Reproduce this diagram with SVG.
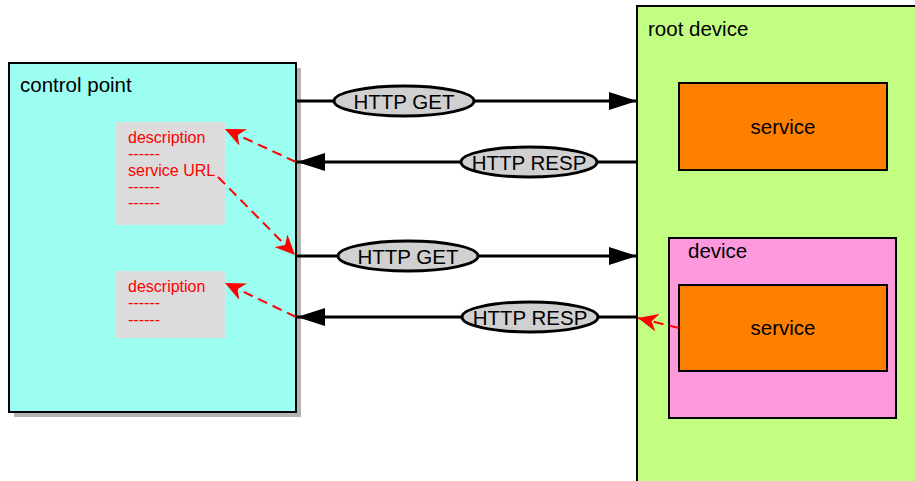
<svg xmlns="http://www.w3.org/2000/svg" width="915" height="481" viewBox="0 0 915 481">
<defs>
<marker id="blk" markerWidth="28" markerHeight="18" refX="28" refY="9" orient="auto" markerUnits="userSpaceOnUse"><path d="M0,0 L28,9 L0,18 Z" fill="#000"/></marker>
<marker id="red" markerWidth="20" markerHeight="18" refX="20" refY="9" orient="auto" markerUnits="userSpaceOnUse"><path d="M0,0 L20,9 L0,18 L6,9 Z" fill="#f00"/></marker>
</defs>
<style>
text{font-family:"Liberation Sans",Arial,sans-serif;}
.lbl{font-size:20.5px;fill:#000;}
.note{font-size:16px;fill:#f00;}
.box{stroke:#000;stroke-width:2;}
.conn{stroke:#000;stroke-width:3;fill:none;}
.ell{fill:#d0d0d0;stroke:#000;stroke-width:3;}
.rd{stroke:#f00;stroke-width:2;stroke-dasharray:10,6;fill:none;}
</style>
<g id="root-device">
<rect x="637" y="6" width="290" height="490" fill="#c2fe82" class="box"/>
<text x="648" y="36" class="lbl">root device</text>
</g>
<g id="service1">
<rect x="679" y="83" width="208" height="87" fill="#fe8000" class="box"/>
<text x="783" y="134" class="lbl" text-anchor="middle">service</text>
</g>
<g id="device">
<rect x="669" y="238" width="227" height="180" fill="#fc98dc" class="box"/>
<text x="688" y="258" class="lbl">device</text>
</g>
<g id="service2">
<rect x="679" y="285" width="208" height="86" fill="#fe8000" class="box"/>
<text x="783" y="335" class="lbl" text-anchor="middle">service</text>
</g>
<g id="control-point">
<rect x="14" y="68" width="287" height="349" fill="#b4b4b4"/>
<rect x="9" y="63" width="287" height="349" fill="#9cfef0" class="box"/>
<text x="20" y="92" class="lbl">control point</text>
</g>
<g id="note1">
<rect x="116" y="122" width="109" height="103" fill="#dcdcdc"/>
<text x="128" y="143" class="note">description</text>
<text x="128" y="159" class="note">------</text>
<text x="128" y="176" class="note">service URL</text>
<text x="128" y="192" class="note">------</text>
<text x="128" y="208" class="note">------</text>
</g>
<g id="note2">
<rect x="116" y="271" width="109" height="67" fill="#dcdcdc"/>
<text x="128" y="292" class="note">description</text>
<text x="128" y="308" class="note">------</text>
<text x="128" y="325" class="note">------</text>
</g>
<g id="connectors">
<line x1="296" y1="101" x2="637" y2="101" class="conn" marker-end="url(#blk)"/>
<line x1="637" y1="162" x2="297" y2="162" class="conn" marker-end="url(#blk)"/>
<line x1="296" y1="256" x2="637" y2="256" class="conn" marker-end="url(#blk)"/>
<line x1="637" y1="317" x2="297" y2="317" class="conn" marker-end="url(#blk)"/>
<ellipse cx="404" cy="101" rx="70" ry="15" class="ell"/>
<text x="404" y="108.5" class="lbl" text-anchor="middle">HTTP GET</text>
<ellipse cx="529" cy="162" rx="68" ry="15" class="ell"/>
<text x="529" y="169.5" class="lbl" text-anchor="middle">HTTP RESP</text>
<ellipse cx="408" cy="256" rx="70" ry="15" class="ell"/>
<text x="408" y="263.5" class="lbl" text-anchor="middle">HTTP GET</text>
<ellipse cx="530" cy="317" rx="68" ry="15" class="ell"/>
<text x="530" y="324.5" class="lbl" text-anchor="middle">HTTP RESP</text>
<line x1="296" y1="162" x2="225" y2="129" class="rd" marker-end="url(#red)"/>
<line x1="218" y1="177" x2="295" y2="255" class="rd" marker-end="url(#red)"/>
<line x1="296" y1="317" x2="225" y2="283" class="rd" marker-end="url(#red)"/>
<line x1="679" y1="328" x2="638" y2="318" class="rd" marker-end="url(#red)"/>
</g>
</svg>
